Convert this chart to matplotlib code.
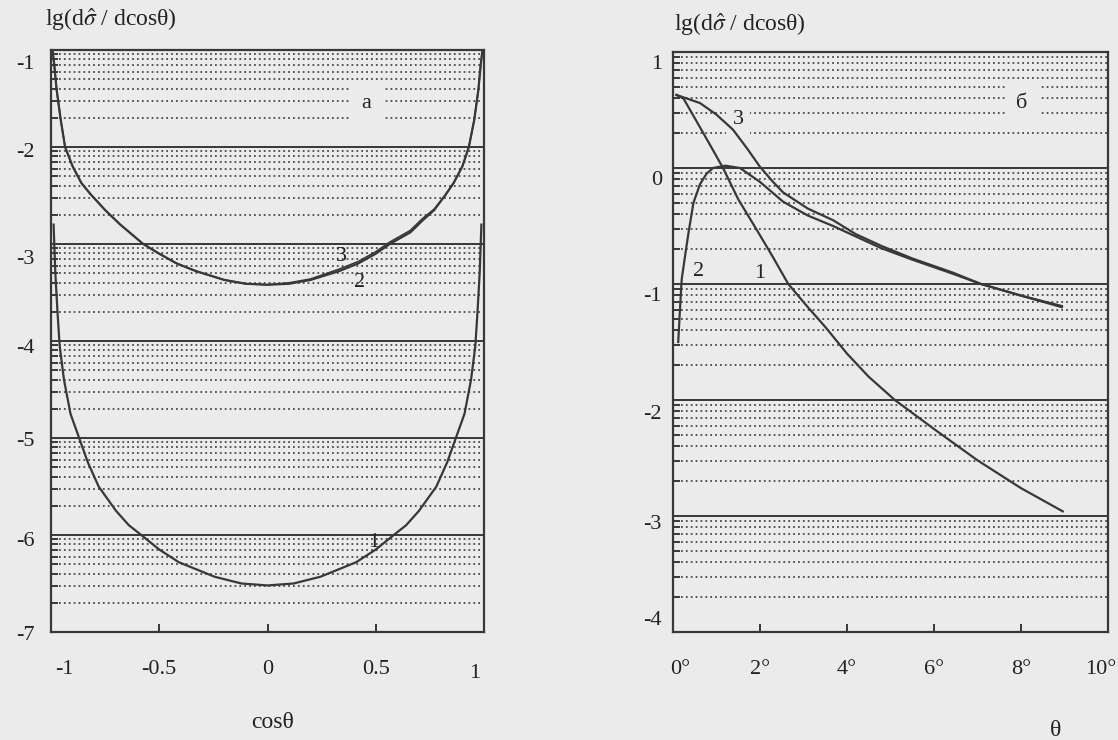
import numpy as np
import matplotlib.pyplot as plt
from matplotlib.ticker import FixedLocator
from matplotlib.transforms import ScaledTranslation

# panel a: lg(dsigma/dcos) vs cos(theta)
cos_a = [-0.993, -0.985, -0.974, -0.955, -0.935, -0.9, -0.86, -0.82, -0.75, -0.68,
         -0.574, -0.5, -0.42, -0.33, -0.2, -0.1, 0.0, 0.1, 0.2, 0.33, 0.42, 0.5,
         0.565, 0.66, 0.715, 0.77, 0.82, 0.86, 0.9, 0.93, 0.955, 0.974, 0.985, 0.993]
lg_a2 = [-1.0, -1.15, -1.41, -1.72, -2.0, -2.2, -2.37, -2.48, -2.65, -2.8,
         -3.0, -3.1, -3.2, -3.28, -3.37, -3.41, -3.42, -3.41, -3.37, -3.28, -3.2, -3.1,
         -3.0, -2.88, -2.76, -2.65, -2.5, -2.37, -2.2, -2.0, -1.72, -1.41, -1.15, -1.0]
lg_a3 = [-1.0, -1.15, -1.41, -1.72, -2.0, -2.2, -2.37, -2.48, -2.65, -2.8,
         -3.0, -3.1, -3.2, -3.28, -3.37, -3.41, -3.42, -3.4, -3.36, -3.26, -3.18, -3.08,
         -2.98, -2.86, -2.74, -2.64, -2.5, -2.37, -2.2, -2.0, -1.72, -1.41, -1.15, -1.0]
cos_a1 = [-0.988, -0.98, -0.97, -0.96, -0.94, -0.91, -0.87, -0.83, -0.78, -0.7, -0.64,
          -0.583, -0.5, -0.41, -0.245, -0.12, 0.0, 0.12, 0.245, 0.41, 0.5, 0.583, 0.64,
          0.7, 0.78, 0.83, 0.87, 0.91, 0.94, 0.96, 0.97, 0.98, 0.988]
lg_a1 = [-2.8, -3.3, -3.7, -4.05, -4.4, -4.75, -5.0, -5.25, -5.5, -5.75, -5.9,
         -6.0, -6.15, -6.28, -6.43, -6.5, -6.52, -6.5, -6.43, -6.28, -6.15, -6.0, -5.9,
         -5.75, -5.5, -5.25, -5.0, -4.75, -4.4, -4.05, -3.7, -3.3, -2.8]

# panel b: lg(dsigma/dcos) vs theta (degrees)
th_b1 = [0.08, 0.24, 0.5, 0.85, 1.15, 1.5, 1.92, 2.3, 2.65, 3.1, 3.5, 4.0, 4.5, 5.1,
         6.0, 7.0, 8.0, 8.96]
lg_b1 = [0.63, 0.6, 0.43, 0.2, 0.0, -0.27, -0.53, -0.77, -1.0, -1.2, -1.37, -1.6,
         -1.8, -2.0, -2.25, -2.52, -2.76, -2.96]
th_b2 = [0.12, 0.16, 0.2, 0.28, 0.36, 0.47, 0.62, 0.77, 0.92, 1.2, 1.54, 2.0, 2.53,
         3.1, 3.68, 4.2, 4.78, 5.5, 6.42, 7.08, 8.0, 8.94]
lg_b2 = [-1.5, -1.22, -0.96, -0.75, -0.55, -0.3, -0.14, -0.05, 0.0, 0.02, 0.0, -0.12,
         -0.29, -0.41, -0.5, -0.59, -0.69, -0.79, -0.91, -1.0, -1.1, -1.2]
th_b3 = [0.08, 0.62, 1.0, 1.38, 1.7, 2.0, 2.3, 2.53, 3.1, 3.68, 4.2, 4.78, 5.5, 6.42,
         7.08, 8.0, 8.94]
lg_b3 = [0.63, 0.56, 0.46, 0.33, 0.17, 0.01, -0.12, -0.21, -0.35, -0.45, -0.57, -0.67,
         -0.78, -0.9, -1.0, -1.1, -1.19]

xticks_a = [-1, -0.5, 0, 0.5, 1]
xlabels_a = ['-1', '-0.5', '0', '0.5', '1']
xticks_b = [0, 2, 4, 6, 8, 10]
xlabels_b = ['0°', '2°', '4°', '6°', '8°', '10°']

BG = '#ebebeb'
INK = '#383838'
DOT = '#4a4a4a'

plt.rcParams['font.family'] = ['Liberation Serif', 'DejaVu Serif']
plt.rcParams['mathtext.fontset'] = 'stix'
plt.rcParams['axes.unicode_minus'] = False


def minor_positions(lo, hi):
    return [d + np.log10(k) for d in range(lo, hi) for k in range(2, 10)]


def style_axes(ax, ylo, yhi, ypad):
    ax.set_facecolor(BG)
    ax.set_ylim(ylo, yhi)
    ax.yaxis.set_major_locator(FixedLocator(list(range(ylo, yhi + 1))))
    ax.yaxis.set_minor_locator(FixedLocator(minor_positions(ylo, yhi)))
    ax.set_yticklabels([str(v) for v in range(ylo, yhi + 1)])
    for y in range(ylo + 1, yhi):
        ax.axhline(y, color=INK, lw=1.4, zorder=1)
    for y in minor_positions(ylo, yhi):
        ax.axhline(y, xmin=0.018, color=DOT, lw=1.3, ls=(0, (1, 1.7)), zorder=1)
    ax.tick_params(axis='y', which='major', length=0, pad=ypad, labelsize=16, labelcolor='#222')
    ax.tick_params(axis='y', which='minor', direction='in', length=5, width=1.4, color=INK)
    ax.tick_params(axis='x', direction='in', length=6, width=1.4, color=INK, pad=20,
                   labelsize=16, labelcolor='#222')
    for s in ax.spines.values():
        s.set_linewidth(1.6)
        s.set_color(INK)


def shift_label(fig, label, dx_px, dy_px=0):
    label.set_transform(label.get_transform() +
                        ScaledTranslation(dx_px / 100.0, -dy_px / 100.0, fig.dpi_scale_trans))


fig = plt.figure(figsize=(11.18, 7.4), dpi=100, facecolor=BG)
W, H = 1118.0, 740.0
ax1 = fig.add_axes([51 / W, 1 - 632 / H, 433 / W, 582 / H])
ax2 = fig.add_axes([673 / W, 1 - 632 / H, 435 / W, 580 / H])

lab = dict(fontsize=16, color='#222', ha='center', va='center', zorder=2.5)
box = dict(boxstyle='square,pad=0.5', fc=BG, ec='none')

# panel a
style_axes(ax1, -7, -1, 12)
ax1.set_xlim(-1, 1)
ax1.set_xticks(xticks_a)
ax1.set_xticklabels(xlabels_a)
ax1.plot(cos_a, lg_a2, color=INK, lw=1.6, zorder=3)
ax1.plot(cos_a, lg_a3, color=INK, lw=1.2, zorder=3)
ax1.plot(cos_a1, lg_a1, color=INK, lw=1.6, zorder=3)
ax1.text(0.458, -1.55, 'а', bbox=box, **lab)
ax1.text(0.343, -3.13, '3', **lab)
ax1.text(0.426, -3.4, '2', **lab)
ax1.text(0.49, -6.08, '1', **lab)

# panel b
style_axes(ax2, -4, 1, 8)
ax2.set_xlim(0, 10)
ax2.set_xticks(xticks_b)
ax2.set_xticklabels(xlabels_b)
ax2.plot(th_b1, lg_b1, color=INK, lw=1.6, zorder=3)
ax2.plot(th_b2, lg_b2, color=INK, lw=1.6, zorder=3)
ax2.plot(th_b3, lg_b3, color=INK, lw=1.6, zorder=3)
ax2.text(8.02, 0.56, 'б', bbox=box, **lab)
ax2.text(1.5, 0.42, '3', bbox=dict(boxstyle='square,pad=0.3', fc=BG, ec='none'), **lab)
ax2.text(0.58, -0.89, '2', **lab)
ax2.text(2.0, -0.91, '1', **lab)

fig.canvas.draw()
xl1 = ax1.get_xticklabels()
shift_label(fig, xl1[0], 13)
shift_label(fig, xl1[-1], -9, 4)
xl2 = ax2.get_xticklabels()
shift_label(fig, xl2[0], 7)
shift_label(fig, xl2[-1], -7)
# scanned tick labels sit a little off their lines
for t, dy in zip(ax1.get_yticklabels(), [1, 4, 1, 5, 13, 3, 12]):
    shift_label(fig, t, 0, dy)
for t, dy in zip(ax2.get_yticklabels(), [-14, 6, 12, 10, 10, 10]):
    shift_label(fig, t, 0, dy)

fig.text(45 / W, 1 - 20 / H, r'lg(d$\hat{\sigma}$ / dcosθ)', fontsize=17, color='#222',
         ha='left', va='center')
fig.text(674 / W, 1 - 25 / H, r'lg(d$\hat{\sigma}$ / dcosθ)', fontsize=17, color='#222',
         ha='left', va='center')
fig.text(273 / W, 1 - 723 / H, 'cosθ', fontsize=17, color='#222', ha='center', va='center')
fig.text(1056 / W, 1 - 730 / H, 'θ', fontsize=17, color='#222', ha='center', va='center')

fig.savefig('out.png', dpi=100, facecolor=BG)
